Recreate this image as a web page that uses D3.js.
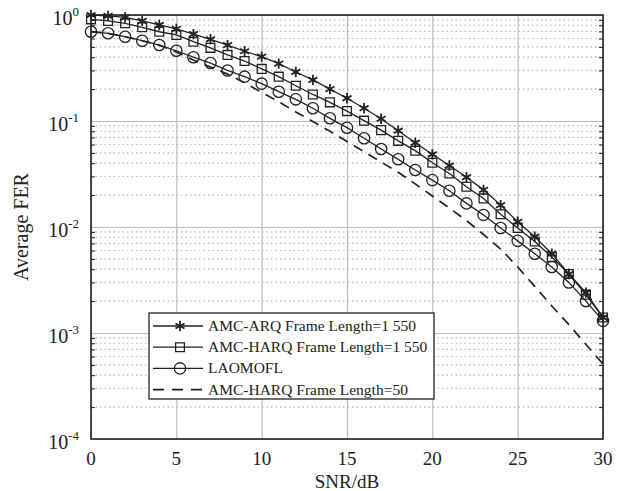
<!DOCTYPE html>
<html>
<head>
<meta charset="utf-8">
<script src="https://cdn.jsdelivr.net/npm/d3@7"></script>
<style>
  body { margin: 0; background: #fff; }
  svg text { font-family: "Liberation Serif", "Times New Roman", serif; fill: #222; }
</style>
</head>
<body>
<div id="graph"></div>
<script>
      // SNR points (dB)
      var snr = [0, 1, 2, 3, 4, 5, 6, 7, 8, 9, 10, 11, 12, 13, 14, 15, 16, 17, 18, 19, 20, 21, 22, 23, 24, 25, 26, 27, 28, 29, 30];

      // average FER
      var arq1550 = [1.0, 0.98, 0.95, 0.88, 0.805, 0.74, 0.66, 0.59, 0.52, 0.455, 0.405, 0.348, 0.29, 0.244, 0.20, 0.164, 0.132, 0.105, 0.081, 0.0624, 0.0485, 0.038, 0.0295, 0.0224, 0.0161, 0.0112, 0.0081, 0.0056, 0.0036, 0.0024, 0.0014];
      var harq1550 = [0.91, 0.88, 0.835, 0.766, 0.695, 0.648, 0.56, 0.49, 0.42, 0.368, 0.31, 0.262, 0.215, 0.178, 0.15, 0.124, 0.1007, 0.082, 0.065, 0.0525, 0.0404, 0.032, 0.024, 0.0186, 0.0132, 0.0098, 0.0073, 0.0052, 0.0036, 0.0023, 0.0014];
      var laomofl = [0.696, 0.672, 0.624, 0.572, 0.521, 0.46, 0.40, 0.352, 0.30, 0.262, 0.225, 0.189, 0.16, 0.132, 0.106, 0.0865, 0.0687, 0.0544, 0.0435, 0.0345, 0.0277, 0.022, 0.0167, 0.013, 0.0098, 0.0074, 0.0056, 0.0042, 0.003, 0.002, 0.0013];
      var harq50 = [0.696, 0.672, 0.624, 0.572, 0.52, 0.447, 0.376, 0.323, 0.277, 0.23, 0.186, 0.152, 0.1216, 0.099, 0.08, 0.064, 0.0513, 0.041, 0.0328, 0.0255, 0.0196, 0.0151, 0.0115, 0.0085, 0.0062, 0.0042, 0.00275, 0.0018, 0.0012, 0.00078, 0.00051];

      var seriesNames = ["AMC-ARQ Frame Length=1 550", "AMC-HARQ Frame Length=1 550", "LAOMOFL", "AMC-HARQ Frame Length=50"];
      var seriesMarks = ["asterisk", "square", "circle", "none"];

      var xTicks = [0, 5, 10, 15, 20, 25, 30];
      var yTicks = [1, 0.1, 0.01, 0.001, 0.0001];
      var yTickExp = ["0", "-1", "-2", "-3", "-4"];

      var margin = {top: 15, right: 28, bottom: 52, left: 91},
          width = 631 - margin.left - margin.right,
          height = 491 - margin.top - margin.bottom;

      var ink = "#222";

      var svg = d3
          .select("#graph")
          .append("svg")
          .attr("width", 631)
          .attr("height", 491)
          .append("g")
          .attr("transform", "translate(" + margin.left + "," + margin.top + ")");

      var x = d3.scaleLinear().domain([0, 30]).range([0, width]);
      var y = d3.scaleLog().domain([1e-4, 1]).range([height, 0]);

      // minor (dotted) horizontal grid
      var minor = [];
      for (let k = 0; k < yTicks.length - 1; k++) {
          for (let m = 2; m < 10; m++) minor.push(yTicks[k + 1] * m);
      }
      svg.append("g")
          .selectAll("line")
          .data(minor)
          .enter()
          .append("line")
          .attr("x1", 0)
          .attr("x2", width)
          .attr("y1", function(d) { return y(d); })
          .attr("y2", function(d) { return y(d); })
          .attr("stroke", "#b8b8b8")
          .attr("stroke-width", 1.2)
          .attr("stroke-dasharray", "1.5,3");

      // major grid
      svg.append("g")
          .call(d3.axisBottom(x).tickValues(xTicks).tickSize(height).tickFormat(""))
          .call(g => g.select(".domain").remove())
          .selectAll("line")
          .attr("stroke", "#bdbdbd")
          .attr("stroke-width", 1.2);
      svg.append("g")
          .call(d3.axisLeft(y).tickValues(yTicks).tickSize(-width).tickFormat(""))
          .call(g => g.select(".domain").remove())
          .selectAll("line")
          .attr("stroke", "#bdbdbd")
          .attr("stroke-width", 1.2);

      // small inward ticks at the minor positions, left and right
      svg.append("g")
          .call(d3.axisLeft(y).tickValues(minor).tickSize(-4).tickFormat(""))
          .call(g => g.select(".domain").remove())
          .selectAll("line").attr("stroke", ink);
      svg.append("g")
          .attr("transform", "translate(" + width + ",0)")
          .call(d3.axisRight(y).tickValues(minor).tickSize(-4).tickFormat(""))
          .call(g => g.select(".domain").remove())
          .selectAll("line").attr("stroke", ink);

      // frame
      svg.append("rect")
          .attr("width", width)
          .attr("height", height)
          .attr("fill", "none")
          .attr("stroke", ink)
          .attr("stroke-width", 1.6);

      // x tick labels
      svg.append("g")
          .selectAll("text")
          .data(xTicks)
          .enter()
          .append("text")
          .attr("x", function(d) { return x(d); })
          .attr("y", height + 26)
          .attr("text-anchor", "middle")
          .style("font-size", "19px")
          .text(function(d) { return d; });

      // y tick labels 10^n
      var yl = svg.append("g")
          .selectAll("text")
          .data(yTicks)
          .enter()
          .append("text")
          .attr("x", -12)
          .attr("y", function(d) { return y(d) + 10; })
          .attr("text-anchor", "end")
          .style("font-size", "20px");
      yl.append("tspan").text("10");
      yl.append("tspan")
          .attr("dy", -9)
          .style("font-size", "13px")
          .text(function(d, i) { return yTickExp[i]; });

      // axis titles
      svg.append("text")
          .attr("x", width / 2)
          .attr("y", height + 49)
          .attr("text-anchor", "middle")
          .style("font-size", "19px")
          .text("SNR/dB");
      svg.append("text")
          .attr("transform", "rotate(-90)")
          .attr("x", -height / 2)
          .attr("y", 28 - margin.left)
          .attr("text-anchor", "middle")
          .style("font-size", "20px")
          .text("Average FER");

      // series
      var all = [arq1550, harq1550, laomofl, harq50];
      var line = d3.line()
          .x(function(d, i) { return x(snr[i]); })
          .y(function(d) { return y(d); });

      var symbolType = {asterisk: d3.symbolAsterisk, square: d3.symbolSquare, circle: d3.symbolCircle};
      var symbolSize = {asterisk: 75, square: 78, circle: 100};

      function drawMark(sel, kind) {
          sel.attr("d", d3.symbol().type(symbolType[kind]).size(symbolSize[kind]))
              .attr("fill", kind === "asterisk" ? ink : "#fff")
              .attr("fill-opacity", kind === "asterisk" ? 1 : 0)
              .attr("stroke", ink)
              .attr("stroke-width", kind === "asterisk" ? 1.8 : 1.3);
      }

      all.forEach(function(vals, s) {
          svg.append("path")
              .attr("fill", "none")
              .attr("stroke", ink)
              .attr("stroke-width", s === 3 ? 1.7 : 1.3)
              .attr("stroke-dasharray", s === 3 ? "10,7" : null)
              .attr("d", line(vals));
          if (seriesMarks[s] !== "none") {
              svg.append("g")
                  .selectAll("path")
                  .data(vals)
                  .enter()
                  .append("path")
                  .attr("transform", function(d, i) { return "translate(" + x(snr[i]) + "," + y(d) + ")"; })
                  .call(drawMark, seriesMarks[s]);
          }
      });

      // legend
      var lg = svg.append("g").attr("transform", "translate(" + (149 - margin.left) + "," + (313 - margin.top) + ")");
      lg.append("rect")
          .attr("width", 285)
          .attr("height", 86)
          .attr("fill", "#fff")
          .attr("stroke", ink)
          .attr("stroke-width", 1.3);
      seriesNames.forEach(function(name, s) {
          var row = lg.append("g").attr("transform", "translate(0," + (13 + s * 21.2) + ")");
          row.append("line")
              .attr("x1", 4)
              .attr("x2", 54)
              .attr("stroke", ink)
              .attr("stroke-width", s === 3 ? 1.7 : 1.3)
              .attr("stroke-dasharray", s === 3 ? "11,8" : null);
          if (seriesMarks[s] !== "none") {
              row.append("path")
                  .attr("transform", "translate(31,0)")
                  .call(drawMark, seriesMarks[s]);
          }
          row.append("text")
              .attr("x", 59)
              .attr("y", 5)
              .style("font-size", "15.5px")
              .text(name);
      });
</script>
</body>
</html>
